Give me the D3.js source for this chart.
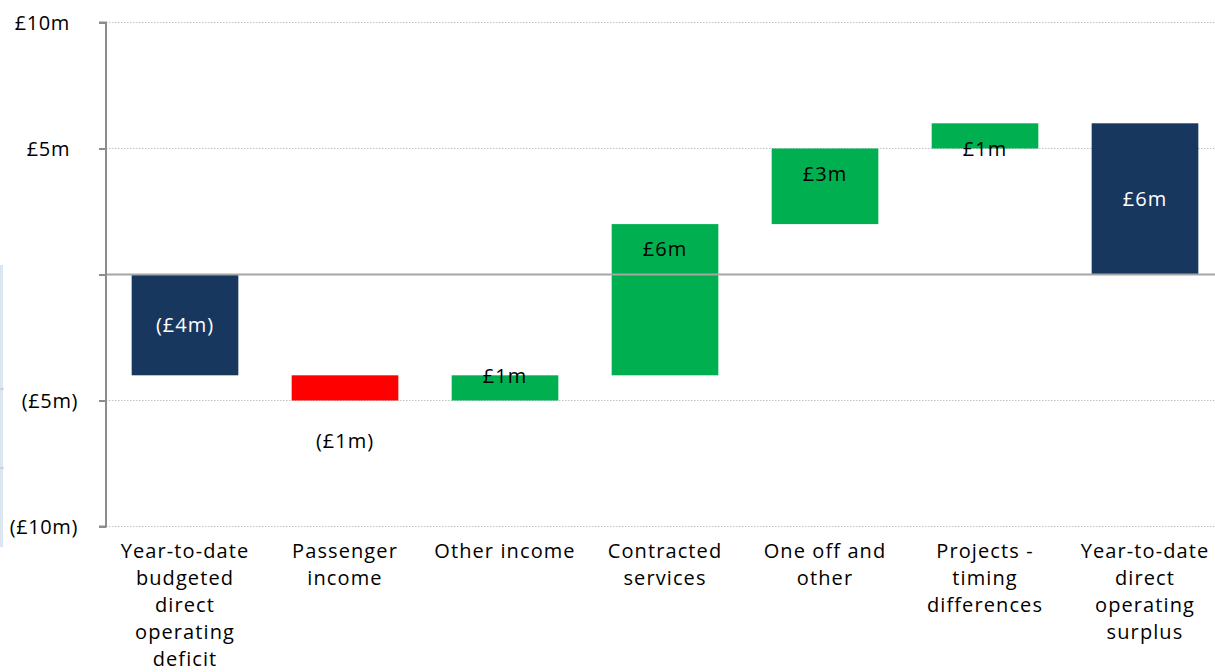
<!DOCTYPE html>
<html><head><meta charset="utf-8">
<script src="https://cdn.jsdelivr.net/npm/d3@7"></script>
<style>
html,body{margin:0;padding:0;background:#fff;}
svg text{font-family:"Open Sans",sans-serif;}
</style></head>
<body><svg id="c" width="1215" height="672"></svg>
<script>
const categories = [
  ["Year-to-date","budgeted","direct","operating","deficit"],
  ["Passenger","income"],
  ["Other income"],
  ["Contracted","services"],
  ["One off and","other"],
  ["Projects -","timing","differences"],
  ["Year-to-date","direct","operating","surplus"]
];
const starts = [0, -4, -5, -4, 2, 5, 0];
const ends   = [-4, -5, -4, 2, 5, 6, 6];
const kinds  = ["total","decrease","increase","increase","increase","increase","total"];
const valueLabels = ["(£4m)","(£1m)","£1m","£6m","£3m","£1m","£6m"];
const tickValues = [10, 5, 0, -5, -10];
const tickLabels = ["£10m","£5m","","(£5m)","(£10m)"];

const colors = {total:"#18375e", decrease:"#ff0000", increase:"#00b050"};
const svg = d3.select("#c");

// faint artefact at left edge
svg.append("rect").attr("x",0).attr("y",265).attr("width",3).attr("height",282).attr("fill","#dce6f2");
[389,468].forEach(yy=>svg.append("line").attr("x1",0).attr("x2",4).attr("y1",yy).attr("y2",yy).attr("stroke","#bfbfbf"));

const y = d3.scaleLinear().domain([-10,10]).range([526.5,22.5]);
const x = d3.scaleBand().domain(d3.range(categories.length)).range([105,1225]).paddingInner(1/3).paddingOuter(1/6);
const axisX = 106;

// gridlines
svg.append("g").selectAll("line").data(tickValues.filter(v=>v!==0)).join("line")
  .attr("x1",axisX).attr("x2",1215).attr("y1",d=>y(d)).attr("y2",d=>y(d))
  .attr("stroke","#c0c0c0").attr("stroke-width",1).attr("stroke-dasharray","1.5,1.5");

// bars
svg.append("g").selectAll("rect").data(d3.range(categories.length)).join("rect")
  .attr("x",i=>x(i)).attr("width",x.bandwidth())
  .attr("y",i=>y(Math.max(starts[i],ends[i])))
  .attr("height",i=>Math.abs(y(starts[i])-y(ends[i])))
  .attr("fill",i=>colors[kinds[i]]);

// zero line
svg.append("line").attr("x1",axisX).attr("x2",1215).attr("y1",y(0)).attr("y2",y(0))
  .attr("stroke","#a6a6a6").attr("stroke-width",2);

// y axis
const ax = svg.append("g").attr("transform",`translate(${axisX},0)`)
  .call(d3.axisLeft(y).tickValues(tickValues).tickSize(7).tickFormat(""));
ax.select(".domain").attr("stroke","#8c8c8c").attr("stroke-width",2).attr("d",`M-7,${y(10)}H0V${y(-10)}H-7`);
ax.selectAll(".tick line").attr("stroke","#8c8c8c").attr("stroke-width",2);
svg.append("g").selectAll("text").data(tickValues).join("text")
  .attr("x",(d)=>d<0?78:70).attr("y",d=>y(d)).attr("dy","0.36em")
  .attr("text-anchor","end").attr("font-size",20).attr("letter-spacing",0.6).attr("fill","#000")
  .text((d,i)=>tickLabels[i]);

// value labels
svg.append("g").selectAll("text").data(d3.range(categories.length)).join("text")
  .attr("x",i=>x(i)+x.bandwidth()/2)
  .attr("y",i=>{
    const top=y(Math.max(starts[i],ends[i])), bot=y(Math.min(starts[i],ends[i]));
    if(kinds[i]==="total") return (top+bot)/2;
    if(kinds[i]==="decrease") return bot+40;
    if(ends[i]<=0) return bot-25;
    return top+25;
  })
  .attr("dy","0.36em").attr("text-anchor","middle").attr("font-size",20).attr("letter-spacing",1)
  .attr("fill",i=>kinds[i]==="total"?"#fff":"#000")
  .text(i=>valueLabels[i]);

// category labels
const cl = svg.append("g").selectAll("text").data(categories).join("text")
  .attr("x",(d,i)=>x(i)+x.bandwidth()/2).attr("y",551).attr("text-anchor","middle")
  .attr("font-size",20).attr("letter-spacing",1.1).attr("fill","#000");
cl.selectAll("tspan").data(d=>d).join("tspan")
  .attr("x",function(){return this.parentNode.getAttribute("x");})
  .attr("dy",(d,j)=>j===0?"0.36em":"27px").text(d=>d);
</script></body></html>
